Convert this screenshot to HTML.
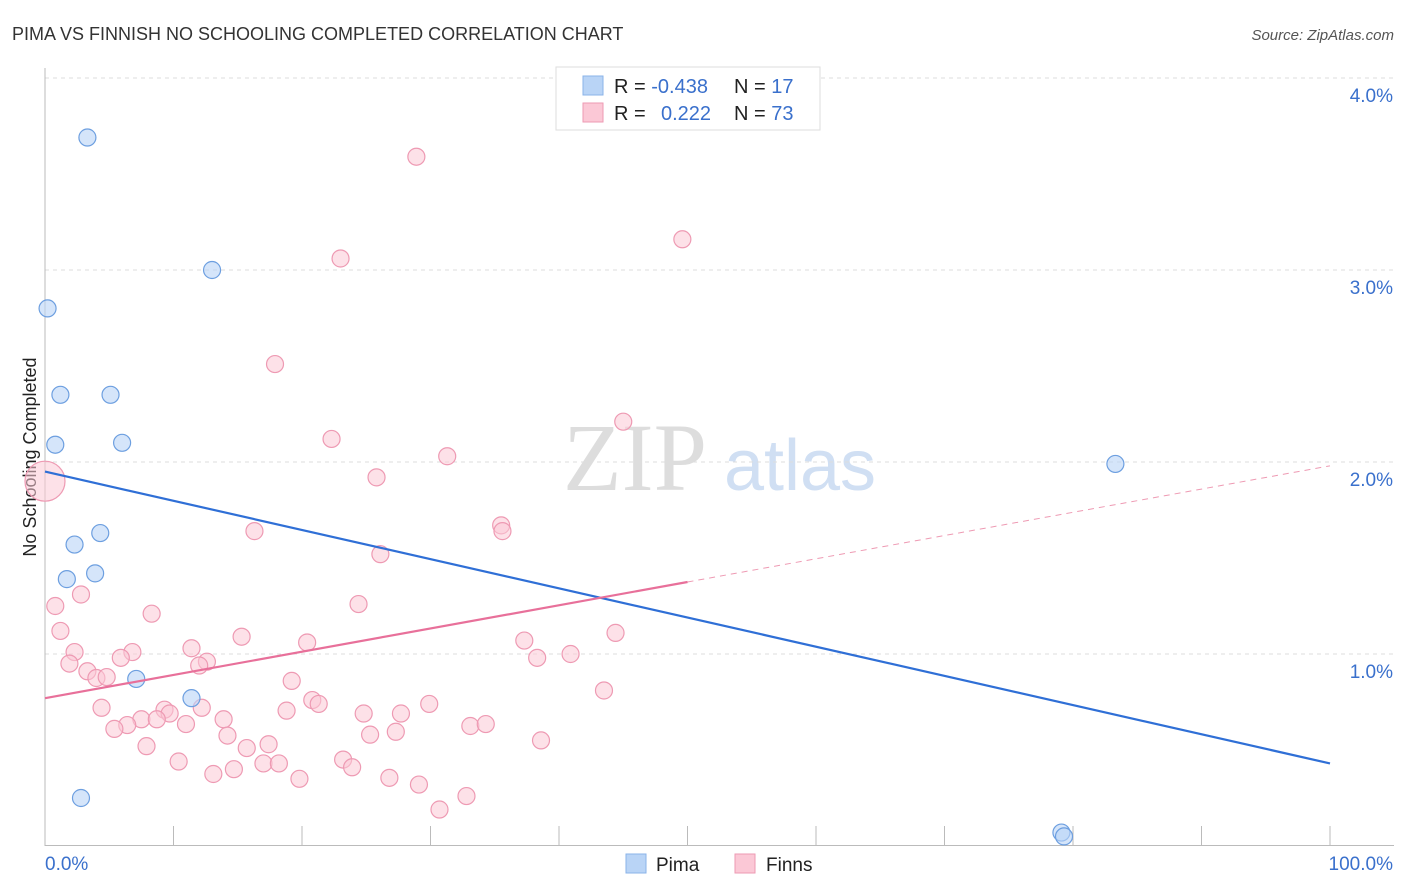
<!DOCTYPE html>
<html><head><meta charset="utf-8"><style>
body{margin:0;background:#fff;font-family:"Liberation Sans",sans-serif;}
svg{display:block}
</style></head><body>
<svg id="chart" width="1406" height="892">
<text x="12" y="40" font-size="18" fill="#333">PIMA VS FINNISH NO SCHOOLING COMPLETED CORRELATION CHART</text>
<text x="1394" y="40" font-size="15" fill="#555" font-style="italic" text-anchor="end">Source: ZipAtlas.com</text>
<text x="36" y="457" font-size="18" fill="#222" transform="rotate(-90 36 457)" text-anchor="middle">No Schooling Completed</text>
<g><text x="635" y="490" font-size="96" fill="#ddd" font-family="Liberation Serif,serif" text-anchor="middle">ZIP</text><text x="800" y="490" font-size="72" fill="#d0dff3" text-anchor="middle">atlas</text></g>
<g id="grid"></g><g id="axes"></g><g id="pts"></g><g id="lines"></g>
<g>
<rect x="556" y="67" width="264" height="63" fill="#fff" stroke="#ddd"/>
<rect x="583" y="76" width="20" height="19" fill="#b9d4f6" stroke="#8ab3e8"/>
<rect x="583" y="103" width="20" height="19" fill="#fbc8d6" stroke="#ee9ab3"/>
<text x="614" y="93" font-size="20" fill="#222">R = <tspan fill="#3a70cc">-0.438</tspan></text>
<text x="734" y="93" font-size="20" fill="#222">N = <tspan fill="#3a70cc"> 17</tspan></text>
<text x="614" y="120" font-size="20" fill="#222">R = <tspan fill="#3a70cc" x="661">0.222</tspan></text>
<text x="734" y="120" font-size="20" fill="#222">N = <tspan fill="#3a70cc">73</tspan></text>
</g>
<g>
<rect x="626" y="854" width="20" height="19" fill="#b9d4f6" stroke="#8ab3e8"/>
<text x="656" y="871" font-size="19" fill="#222">Pima</text>
<rect x="735" y="854" width="20" height="19" fill="#fbc8d6" stroke="#ee9ab3"/>
<text x="766" y="871" font-size="19" fill="#222">Finns</text>
</g>
</svg>
<script>
const yTicks=[1,2,3,4];
const yTickLabels=["1.0%","2.0%","3.0%","4.0%"];
const xTickLabels=["0.0%","100.0%"];
const pimaX=[3.3,13.0,0.2,1.2,5.1,0.8,6.0,2.3,4.3,1.7,3.9,7.1,11.4,2.8,83.3,79.1,79.3];
const pimaY=[3.69,3.0,2.8,2.35,2.35,2.09,2.1,1.57,1.63,1.39,1.42,0.87,0.77,0.25,1.99,0.07,0.05];
const finnX=[28.9,49.6,23.0,17.9,45.0,22.3,31.3,25.8,35.5,35.6,16.3,26.1,0.8,2.8,8.3,24.4,44.4,1.2,15.3,20.4,37.3,2.3,6.8,11.4,40.9,38.3,5.9,12.6,1.9,12.0,3.3,4.0,4.8,19.2,43.5,20.8,21.3,29.9,4.4,9.3,12.2,18.8,24.8,27.7,9.7,7.5,8.7,13.9,10.97,6.4,5.4,33.1,34.3,25.3,27.3,14.2,38.6,7.9,17.4,15.7,23.2,10.4,17.0,18.2,23.9,14.7,13.1,19.8,26.8,29.1,32.8,30.7,0];
const finnY=[3.59,3.16,3.06,2.51,2.21,2.12,2.03,1.92,1.67,1.64,1.64,1.52,1.25,1.31,1.21,1.26,1.11,1.12,1.09,1.06,1.07,1.01,1.01,1.03,1.0,0.98,0.98,0.96,0.95,0.94,0.91,0.875,0.88,0.86,0.81,0.76,0.74,0.74,0.72,0.71,0.72,0.705,0.69,0.69,0.69,0.66,0.66,0.66,0.635,0.63,0.61,0.625,0.635,0.58,0.595,0.575,0.55,0.52,0.53,0.51,0.45,0.44,0.43,0.43,0.41,0.40,0.375,0.35,0.355,0.32,0.26,0.19,1.9];
const pimaTrend=[1.95,0.43];
const finnTrend=[0.77,1.98];
const finnSolidEnd=50;
const NS="http://www.w3.org/2000/svg";
const x0=45,x1=1330,yb=846,yPer=192;
const sx=v=>x0+(v/100)*(x1-x0), sy=v=>yb-v*yPer;
function mk(t,a,p){const e=document.createElementNS(NS,t);for(const k in a)e.setAttribute(k,a[k]);document.getElementById(p).appendChild(e);return e;}
yTicks.forEach((t,i)=>{
 const g=mk('line',{x1:45,x2:1394,y1:sy(t),y2:sy(t),stroke:'#ddd','stroke-dasharray':'4,4'},'grid');
 
 
 const l=mk('text',{x:1393,y:sy(t)+24,'font-size':19,fill:'#3a70cc','text-anchor':'end'},'axes');
 l.textContent=yTickLabels[i];
 
 
});
mk('line',{x1:45,x2:45,y1:68,y2:846,stroke:'#bbb'},'axes');
mk('line',{x1:45,x2:1394,y1:845.5,y2:845.5,stroke:'#bbb'},'axes');
for(let i=1;i<=10;i++){const t=mk('line',{x1:sx(i*10),x2:sx(i*10),y1:826,y2:846,stroke:'#bbb'},'axes');
 
 }
const xl0=mk('text',{x:45,y:870,'font-size':19,fill:'#3a70cc'},'axes');xl0.textContent=xTickLabels[0];


const xl1=mk('text',{x:1393,y:870,'font-size':19,fill:'#3a70cc','text-anchor':'end'},'axes');xl1.textContent=xTickLabels[1];


finnX.forEach((v,i)=>{const big=(i==finnX.length-1);
 const c=mk('circle',{cx:sx(v),cy:sy(finnY[i]),r:big?20:8.5,fill:'#fbc8d6','fill-opacity':0.55,stroke:'#ee9ab3','stroke-width':1.2},'pts');
 
 });
pimaX.forEach((v,i)=>{
 const c=mk('circle',{cx:sx(v),cy:sy(pimaY[i]),r:8.5,fill:'#b9d4f6','fill-opacity':0.6,stroke:'#6d9fe0','stroke-width':1.2},'pts');
 
 });
const pl=mk('line',{x1:sx(0),y1:sy(pimaTrend[0]),x2:sx(100),y2:sy(pimaTrend[1]),stroke:'#2f6fd6','stroke-width':2.2},'lines');


const fm=finnTrend[0]+(finnTrend[1]-finnTrend[0])*finnSolidEnd/100;
const fl=mk('line',{x1:sx(0),y1:sy(finnTrend[0]),x2:sx(finnSolidEnd),y2:sy(fm),stroke:'#e8709a','stroke-width':2.2},'lines');


const fd=mk('line',{x1:sx(finnSolidEnd),y1:sy(fm),x2:sx(100),y2:sy(finnTrend[1]),stroke:'#ee9ab3','stroke-width':1,'stroke-dasharray':'6,5'},'lines');


</script>
</body></html>
